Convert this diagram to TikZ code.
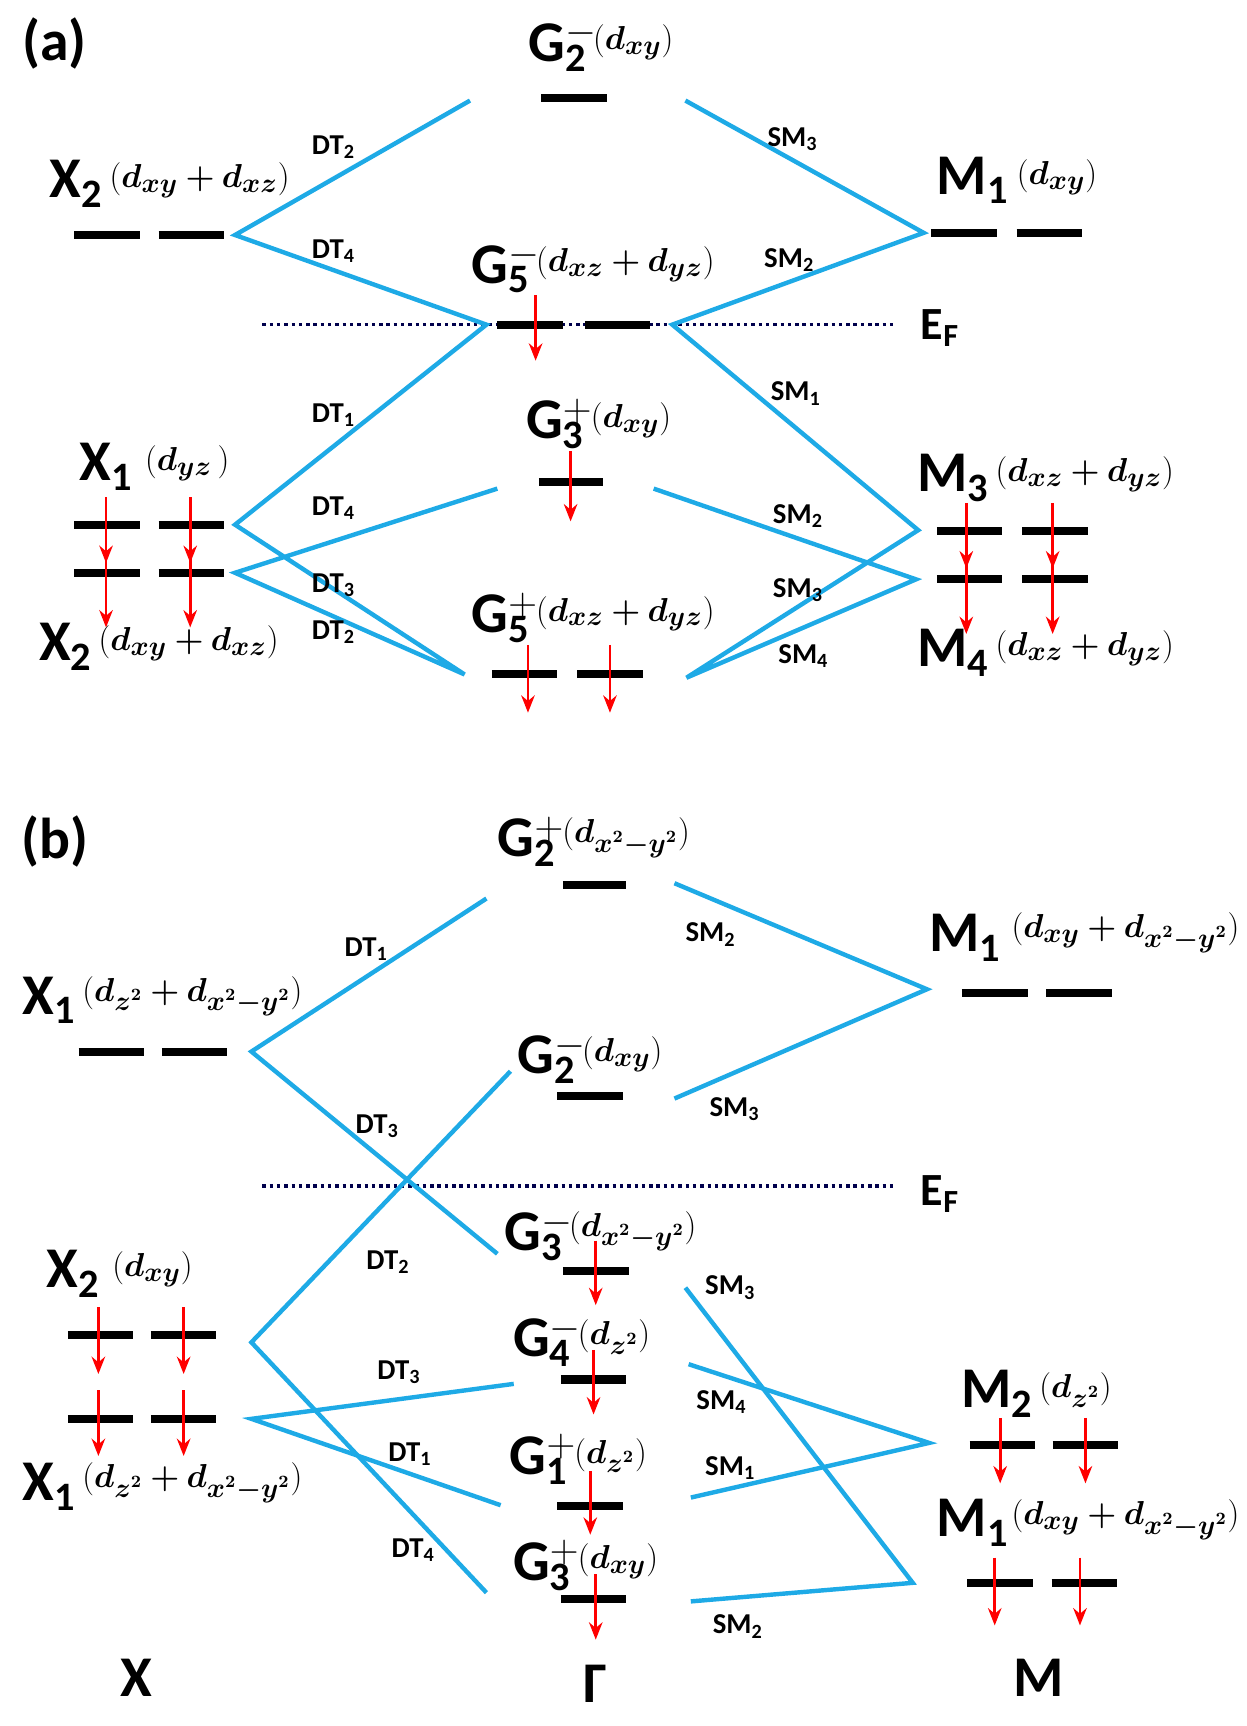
\documentclass[tikz,border=0pt]{standalone}
\usepackage{fontspec}
\usepackage{bm}
\setmainfont{Carlito}
\usetikzlibrary{arrows.meta}
\newcommand\lv[3]{#1\rlap{\textsuperscript{$#3$}}\textsubscript{#2}\ifx&#3&\else\hspace{0.45em}\fi}
\definecolor{cy}{RGB}{30,170,230}
\begin{document}
\begin{tikzpicture}[x=0.02cm,y=-0.02cm,
  big/.style={font=\fontsize{30}{32}\selectfont\bfseries,inner sep=0pt},
  orb/.style={font=\fontsize{19}{21}\selectfont,inner sep=0pt,anchor=west},
  sm/.style={font=\fontsize{15}{17}\selectfont\bfseries,inner sep=0pt},
  bar/.style={line width=4.2pt,black},
  ln/.style={line width=2.3pt,cy},
  ar/.style={red,line width=1.5pt,-{Stealth[length=9pt,width=7pt]}},
  ef/.style={line width=1.8pt,dotted,black!70!blue}]
\useasboundingbox (0,0) rectangle (1140,1579);
\newcommand\bars[3]{\draw[bar] (#1,#3)--++(60,0); \draw[bar] (#2,#3)--++(60,0);}
\newcommand\orbat[3]{\node[orb] (#1) at ([xshift=3pt,yshift=2pt]#2.east) {#3};}
% ===== (a)
\node[big] (la) at (50,40) {(a)};
\node[big] (g2) at (510,42) {\lv{G}{2}{-}}; \orbat{g2o}{g2}{$(\bm{d_{xy}})$}
\draw[bar] (495,90)--(555,90);
\node[big] (x2) at (70,168) {\lv{X}{2}{}}; \orbat{x2o}{x2}{$(\bm{d_{xy}+d_{xz}})$}
\bars{68}{145}{215}
\node[big] (m1) at (890,165) {\lv{M}{1}{}}; \node[orb] (m1o) at (930,162) {$(\bm{d_{xy}})$};
\bars{852}{930}{213}
\node[big] (g5) at (458,245) {\lv{G}{5}{-}}; \orbat{g5o}{g5}{$(\bm{d_{xz}+d_{yz}})$}
\draw[ef] (240,297)--(820,297); \node[big,font=\fontsize{24}{26}\selectfont\bfseries] (efa) at (860,300) {E\textsubscript{F}};
\bars{455}{535}{297}
\draw[ar] (490,270)--(490,330);
\node[big] (g3) at (508,388) {\lv{G}{3}{+}}; \orbat{g3o}{g3}{$(\bm{d_{xy}})$}
\draw[bar] (493,441)--(552,441); \draw[ar] (522,413)--(522,477);
\node[big] (x1) at (97,427) {\lv{X}{1}{}}; \orbat{x1o}{x1}{\,$(\bm{d_{yz}}\,)$}
\bars{68}{145}{480} \bars{68}{145}{524}
\foreach \x in {97,174}{\draw[ar] (\x,455)--(\x,515); \draw[ar] (\x,500)--(\x,574);}
\node[big] (x2b) at (60,592) {\lv{X}{2}{}}; \orbat{x2bo}{x2b}{$(\bm{d_{xy}+d_{xz}})$}
\node[big] (m3) at (872,437) {\lv{M}{3}{}}; \orbat{m3o}{m3}{$(\bm{d_{xz}+d_{yz}})$}
\bars{857}{935}{486} \bars{857}{935}{530}
\foreach \x in {884,963}{\draw[ar] (\x,460)--(\x,520); \draw[ar] (\x,505)--(\x,580);}
\node[big] (m4) at (872,597) {\lv{M}{4}{}}; \orbat{m4o}{m4}{$(\bm{d_{xz}+d_{yz}})$}
\node[big] (g5p) at (458,565) {\lv{G}{5}{+}}; \orbat{g5po}{g5p}{$(\bm{d_{xz}+d_{yz}})$}
\bars{450}{528}{617}
\foreach \x in {483,558}{\draw[ar] (\x,590)--(\x,652);}
% junction coords
\coordinate (aX2) at (215,215); \coordinate (aX1t) at (215,480); \coordinate (aX1b) at (215,524);
\coordinate (aM1) at (845,213); \coordinate (aM3) at (840,485); \coordinate (aM4) at (838,530);
\coordinate (aG2l) at (430,92); \coordinate (aG2r) at (627,92);
\coordinate (aG5l) at (445,297); \coordinate (aG5r) at (615,297);
\coordinate (aG3l) at (455,447); \coordinate (aG3r) at (598,447);
\coordinate (aG5pl) at (425,617); \coordinate (aG5pr) at (628,620);
\draw[ln] (aG2l)--(aX2)--(aG5l)--(aX1t)--(aG5pl)--(aX1b)--(aG3l);
\draw[ln] (aG2r)--(aM1)--(aG5r)--(aM3)--(aG5pr)--(aM4)--(aG3r);
\node[sm] at (305,135) {DT\textsubscript{2}}; \node[sm] at (305,230) {DT\textsubscript{4}};
\node[sm] at (305,380) {DT\textsubscript{1}}; \node[sm] at (305,465) {DT\textsubscript{4}};
\node[sm] at (305,535) {DT\textsubscript{3}}; \node[sm] at (305,578) {DT\textsubscript{2}};
\node[sm] at (725,127) {SM\textsubscript{3}}; \node[sm] at (722,238) {SM\textsubscript{2}};
\node[sm] at (728,360) {SM\textsubscript{1}}; \node[sm] at (730,472) {SM\textsubscript{2}};
\node[sm] at (730,540) {SM\textsubscript{3}}; \node[sm] at (735,600) {SM\textsubscript{4}};
% ===== (b)
\node[big] (lb) at (50,770) {(b)};
\node[big] (bg2p) at (482,770) {\lv{G}{2}{+}}; \orbat{bg2po}{bg2p}{$(\bm{d_{x^2-y^2}})$}
\draw[bar] (515,810)--(573,810);
\node[big] (bm1) at (883,858) {\lv{M}{1}{}}; \node[orb] (bm1o) at (925,853) {$(\bm{d_{xy}+d_{x^2-y^2}})$};
\bars{880}{957}{908}
\node[big] (bx1) at (45,915) {\lv{X}{1}{}}; \orbat{bx1o}{bx1}{$(\bm{d_{z^2}+d_{x^2-y^2}})$}
\bars{72}{148}{962}
\node[big] (bg2m) at (500,968) {\lv{G}{2}{-}}; \orbat{bg2mo}{bg2m}{$(\bm{d_{xy}})$}
\draw[bar] (510,1003)--(570,1003);
\draw[ef] (240,1085)--(820,1085); \node[big,font=\fontsize{24}{26}\selectfont\bfseries] (efb) at (860,1092) {E\textsubscript{F}};
\node[big] (bg3m) at (488,1130) {\lv{G}{3}{-}}; \orbat{bg3mo}{bg3m}{$(\bm{d_{x^2-y^2}})$}
\draw[bar] (515,1163)--(575,1163); \draw[ar] (545,1135)--(545,1194);
\node[big] (bx2) at (67,1165) {\lv{X}{2}{}}; \orbat{bx2o}{bx2}{\,$(\bm{d_{xy}})$}
\bars{62}{138}{1221}
\foreach \x in {90,168}{\draw[ar] (\x,1196)--(\x,1257);}
\node[big] (bg4m) at (496,1227) {\lv{G}{4}{-}}; \orbat{bg4mo}{bg4m}{$(\bm{d_{z^2}})$}
\draw[bar] (513,1262)--(573,1262); \draw[ar] (543,1235)--(543,1294);
\bars{62}{138}{1298}
\foreach \x in {90,168}{\draw[ar] (\x,1272)--(\x,1332);}
\node[big] (bx1b) at (45,1360) {\lv{X}{1}{}}; \orbat{bx1bo}{bx1b}{$(\bm{d_{z^2}+d_{x^2-y^2}})$}
\node[big] (bg1p) at (493,1335) {\lv{G}{1}{+}}; \orbat{bg1po}{bg1p}{$(\bm{d_{z^2}})$}
\draw[bar] (510,1378)--(570,1378); \draw[ar] (540,1346)--(540,1404);
\node[big] (bg3p) at (496,1432) {\lv{G}{3}{+}}; \orbat{bg3po}{bg3p}{$(\bm{d_{xy}})$}
\draw[bar] (513,1463)--(573,1463); \draw[ar] (545,1440)--(545,1500);
\node[big] (bm2) at (912,1275) {\lv{M}{2}{}}; \orbat{bm2o}{bm2}{$(\bm{d_{z^2}})$}
\bars{887}{963}{1322}
\foreach \x in {915,993}{\draw[ar] (\x,1297)--(\x,1357);}
\node[big] (bm1b) at (890,1393) {\lv{M}{1}{}}; \node[orb] (bm1bo) at (925,1390) {$(\bm{d_{xy}+d_{x^2-y^2}})$};
\bars{885}{962}{1448}
\foreach \x in {910,988}{\draw[ar] (\x,1425)--(\x,1487);}
% junctions
\coordinate (bX1) at (230,962); \coordinate (bX2) at (230,1228); \coordinate (bX1b) at (230,1298);
\coordinate (bM1) at (848,905); \coordinate (bM2) at (850,1320); \coordinate (bM1b) at (835,1448);
\coordinate (bG2pl) at (445,822); \coordinate (bG2pr) at (617,808);
\coordinate (bG2ml) at (467,980); \coordinate (bG2mr) at (617,1005);
\coordinate (bG3ml) at (455,1147); \coordinate (bG3mr) at (627,1178);
\coordinate (bG4ml) at (470,1266); \coordinate (bG4mr) at (630,1248);
\coordinate (bG1pl) at (458,1377); \coordinate (bG1pr) at (632,1370);
\coordinate (bG3pl) at (445,1457); \coordinate (bG3pr) at (632,1465);
\draw[ln] (bG2pl)--(bX1)--(bG3ml); \draw[ln] (bG2ml)--(bX2)--(bG3pl);
\draw[ln] (bG4ml)--(bX1b)--(bG1pl);
\draw[ln] (bG2pr)--(bM1)--(bG2mr);
\draw[ln] (bG4mr)--(bM2)--(bG1pr);
\draw[ln] (bG3mr)--(bM1b)--(bG3pr);
\node[sm] at (335,868) {DT\textsubscript{1}}; \node[sm] at (345,1030) {DT\textsubscript{3}};
\node[sm] at (355,1155) {DT\textsubscript{2}}; \node[sm] at (365,1255) {DT\textsubscript{3}};
\node[sm] at (375,1330) {DT\textsubscript{1}}; \node[sm] at (378,1418) {DT\textsubscript{4}};
\node[sm] at (650,855) {SM\textsubscript{2}}; \node[sm] at (672,1015) {SM\textsubscript{3}};
\node[sm] at (668,1178) {SM\textsubscript{3}}; \node[sm] at (660,1283) {SM\textsubscript{4}};
\node[sm] at (668,1343) {SM\textsubscript{1}}; \node[sm] at (675,1488) {SM\textsubscript{2}};
\node[big] (kX) at (125,1535) {X}; \node[big] (kG) at (545,1540) {Γ}; \node[big] (kM) at (950,1535) {M};
\end{tikzpicture}
\end{document}
